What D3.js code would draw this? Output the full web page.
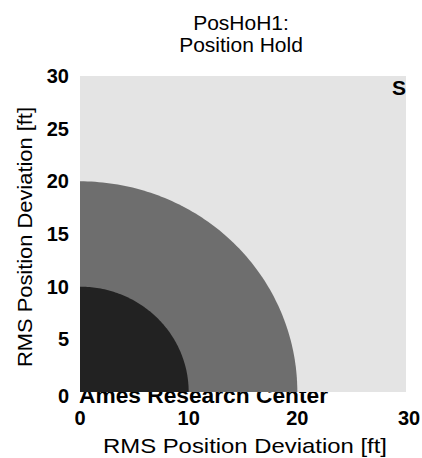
<!DOCTYPE html>
<html><head><meta charset="utf-8">
<script src="https://cdn.jsdelivr.net/npm/d3@7"></script>
<style>body{margin:0;background:#fff}svg{display:block}text{font-family:"Liberation Sans",Arial,sans-serif;fill:#000}</style>
</head><body>
<svg id="c" width="422" height="458"></svg>
<script>
const titleLines = ["PosHoH1:", "Position Hold"];
const xTicks = [0, 10, 20, 30];
const yTicks = [0, 5, 10, 15, 20, 25, 30];
const regionRadii = [30, 20, 10];          // outer bound, middle ring, inner disc
const regionLabels = ["S", "", ""];
const regionColors = ["#e4e4e4", "#6e6e6e", "#222222"];
const xLabel = "RMS Position Deviation [ft]";
const yLabel = "RMS Position Deviation [ft]";
const footer = "Ames Research Center";

const svg = d3.select("#c");
const m = {l: 80, r: 406, t: 76, b: 392};
const x = d3.scaleLinear().domain([0, 30]).range([m.l, m.r]);
const y = d3.scaleLinear().domain([0, 30]).range([m.b, m.t]);

// footer (drawn first: plot covers its top)
svg.append("text").attr("x", 79).attr("y", 403).attr("font-size", 22).attr("font-weight", "bold")
  .attr("textLength", 249).attr("lengthAdjust", "spacingAndGlyphs").text(footer);

// outer rectangle region
svg.append("rect").attr("x", x(0)).attr("y", y(30)).attr("width", x(30) - x(0)).attr("height", y(0) - y(30))
  .attr("fill", regionColors[0]);

// quarter discs
[1, 2].forEach(i => {
  const r = regionRadii[i];
  const pts = d3.range(0, 91, 1).map(a => [x(r * Math.cos(a * Math.PI / 180)), y(r * Math.sin(a * Math.PI / 180))]);
  pts.push([x(0), y(0)]);
  svg.append("path").attr("d", d3.line()(pts) + "Z").attr("fill", regionColors[i]);
});

// axes tick labels
svg.append("g").selectAll("text").data(xTicks).join("text")
  .attr("x", d => x(d) + (d === 30 ? 3 : 0)).attr("y", 425).attr("text-anchor", "middle")
  .attr("font-size", 20).attr("font-weight", "bold").text(d => d);
svg.append("g").selectAll("text").data(yTicks).join("text")
  .attr("x", 69).attr("y", d => y(d) + (d === 0 ? 11 : 7)).attr("text-anchor", "end")
  .attr("font-size", 20).attr("font-weight", "bold").text(d => d);

// region label
svg.append("text").attr("x", 406).attr("y", 95).attr("text-anchor", "end")
  .attr("font-size", 21).attr("font-weight", "bold").text(regionLabels[0]);

// title
svg.append("g").selectAll("text").data(titleLines).join("text")
  .attr("x", 241).attr("y", (d, i) => 30 + i * 22).attr("text-anchor", "middle")
  .attr("font-size", 21).text(d => d);

// axis labels
svg.append("text").attr("x", 245).attr("y", 453).attr("text-anchor", "middle").attr("font-size", 21)
  .attr("textLength", 284).attr("lengthAdjust", "spacingAndGlyphs").text(xLabel);
svg.append("text").attr("transform", "translate(32,237) rotate(-90)").attr("text-anchor", "middle").attr("font-size", 21)
  .attr("textLength", 260).attr("lengthAdjust", "spacingAndGlyphs").text(yLabel);
</script>
</body></html>
